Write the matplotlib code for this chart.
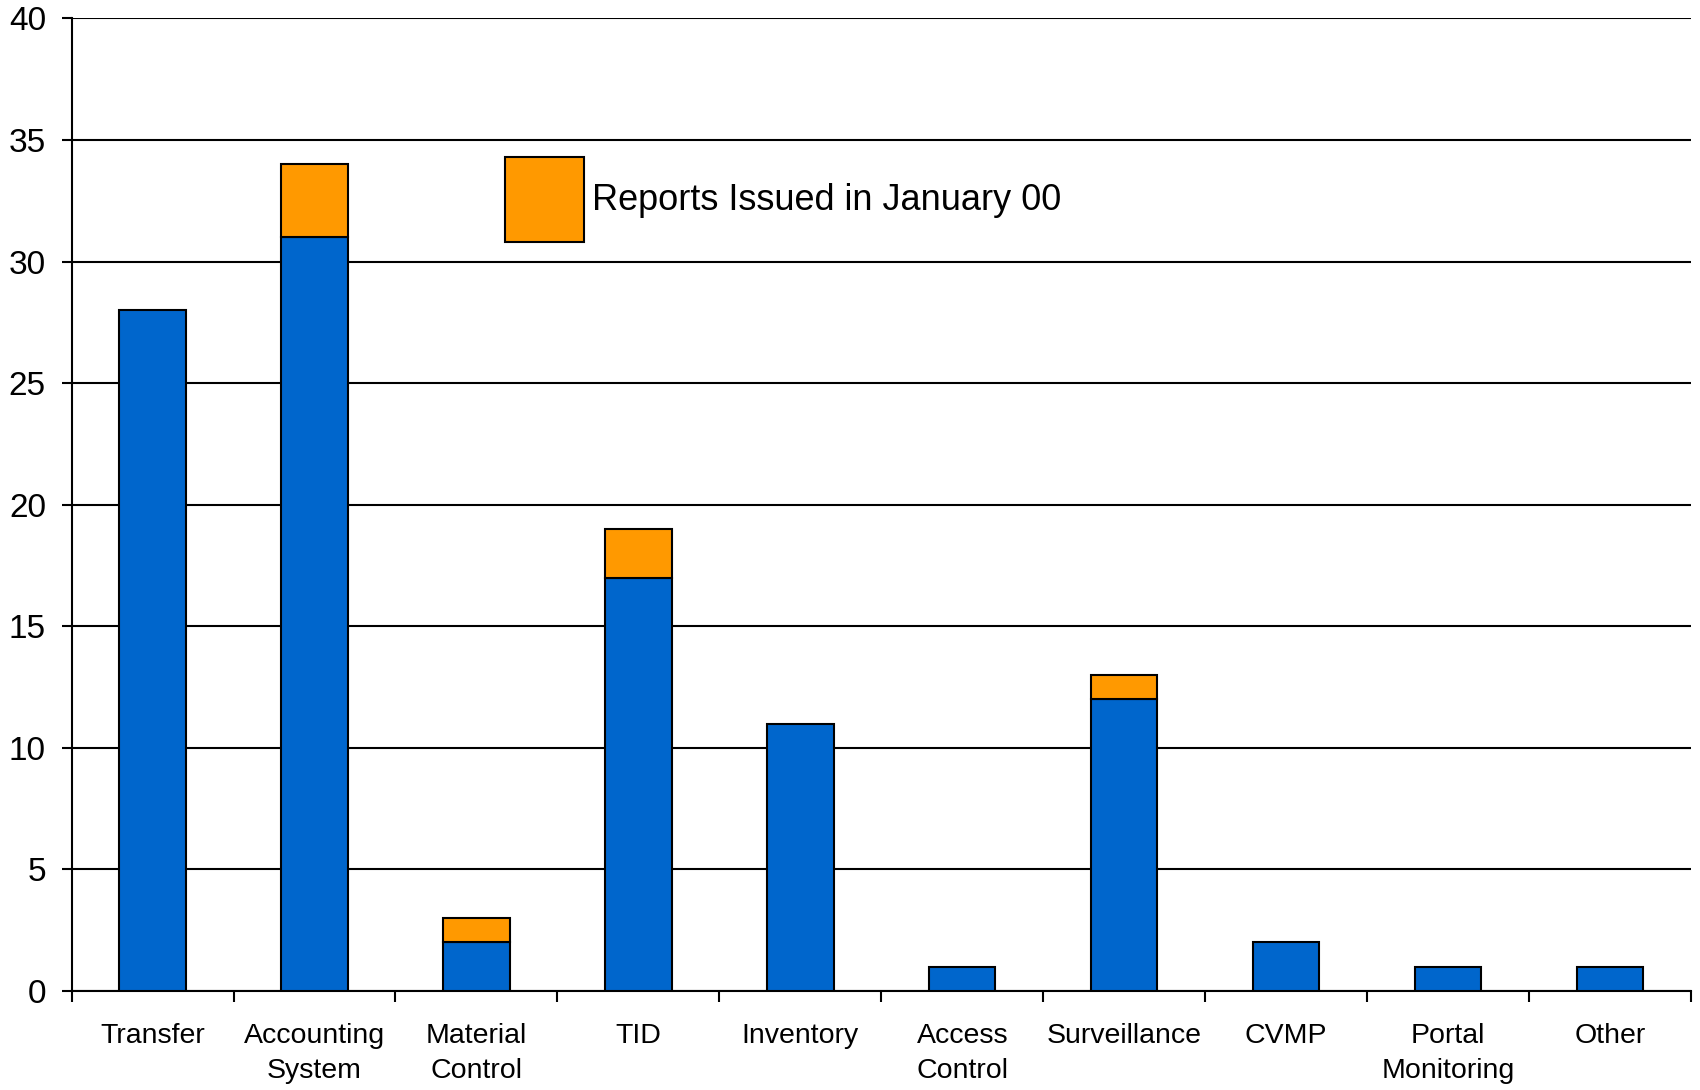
import matplotlib
matplotlib.use("Agg")
import matplotlib.pyplot as plt
import numpy as np

categories = ["Transfer", "Accounting\nSystem", "Material\nControl", "TID", "Inventory",
              "Access\nControl", "Surveillance", "CVMP", "Portal\nMonitoring", "Other"]
previous_reports = [28, 31, 2, 17, 11, 1, 12, 2, 1, 1]
january_reports = [0, 3, 1, 2, 0, 0, 1, 0, 0, 0]
legend_label = "Reports Issued in January 00"
y_ticks = [0, 5, 10, 15, 20, 25, 30, 35, 40]

plt.rcParams['font.family'] = ['Liberation Sans', 'DejaVu Sans']

fig = plt.figure(figsize=(17, 10.9), dpi=100)
ax = fig.add_axes([0.0421, 0.0908, 0.9526, 0.8923])

x = np.arange(len(categories))
blue = "#0066CC"
orange = "#FF9900"
w = 0.41
ax.bar(x, previous_reports, width=w, color=blue, edgecolor="black", linewidth=1.5,
       zorder=3, label="_nolegend_")
jan = ax.bar(x, january_reports, width=w, bottom=previous_reports, color=orange,
             edgecolor="black", linewidth=1.5, zorder=3, label=legend_label)
for rect, v in zip(jan, january_reports):
    if v == 0:
        rect.set_visible(False)

ax.set_xlim(-0.5, len(categories) - 0.5)
ax.set_ylim(0, 40)
ax.set_yticks(y_ticks)
ax.yaxis.grid(True, color="black", linewidth=1.5, zorder=0)
ax.set_axisbelow(True)

ax.set_xticks(x)
ax.set_xticklabels(categories, fontsize=20.5, linespacing=1.45)
ax.set_xticks(np.arange(-0.5, len(categories)), minor=True)
ax.tick_params(axis='x', which='major', length=0, pad=23)
ax.tick_params(axis='x', which='minor', length=8, width=1.5, direction='out', color='black')
ax.tick_params(axis='y', which='major', length=7.5, width=1.5, direction='out', pad=11, labelsize=24)

for s in ["top", "right"]:
    ax.spines[s].set_visible(False)
for s in ["left", "bottom"]:
    ax.spines[s].set_linewidth(1.5)
    ax.spines[s].set_color("black")

leg = ax.legend(handles=[jan[1]], labels=[legend_label], loc="center left",
                bbox_to_anchor=(0.2676, 0.814), frameon=False, fontsize=26,
                handlelength=2.2, handleheight=3.25, handletextpad=0.2,
                borderpad=0, borderaxespad=0)

fig.savefig("out.png", dpi=100, facecolor="white")
